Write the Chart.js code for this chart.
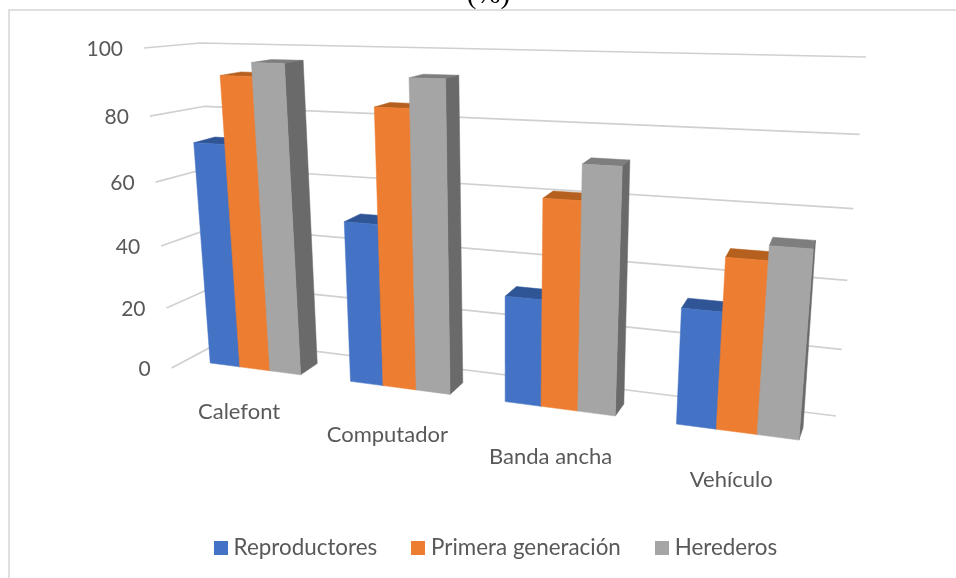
<!DOCTYPE html>
<html><head><meta charset="utf-8">
<style>html,body{margin:0;padding:0;background:#fff}#wrap{width:956px;height:578px}</style>
<script src="https://cdn.jsdelivr.net/npm/chart.js@4"></script>
</head><body><div id="wrap"><canvas id="c" width="956" height="578"></canvas></div>
<script>
const categories = ['Calefont','Computador','Banda ancha','Vehículo'];
const reproductores = [71,50,32,33.5];
const primeraGeneracion = [91.5,84,61,48.5];
const herederos = [95.5,92.5,71,52.5];
const titleText = '(%)';

// square-to-quad homography; corners: [bottom-left, bottom-right, top-right, top-left]
function quad(p){
  const [a,b,c,d]=p;
  const dx1=b[0]-c[0],dx2=d[0]-c[0],sx=a[0]-b[0]+c[0]-d[0];
  const dy1=b[1]-c[1],dy2=d[1]-c[1],sy=a[1]-b[1]+c[1]-d[1];
  const det=dx1*dy2-dx2*dy1;
  const g=(sx*dy2-dx2*sy)/det,h=(dx1*sy-sx*dy1)/det;
  const A=b[0]-a[0]+g*b[0],B=d[0]-a[0]+h*d[0];
  const D=b[1]-a[1]+g*b[1],E=d[1]-a[1]+h*d[1];
  return (u,v)=>{const w=g*u+h*v+1;return [(A*u+B*v+a[0])/w,(D*u+E*v+a[1])/w];};
}
// perspective interpolation along a vertical edge of the box
function edge(p0,p1,v){
  const t=v/(v+(1-v)*1.083);
  return [p0[0]+(p1[0]-p0[0])*t,p0[1]+(p1[1]-p0[1])*t];
}
const barFront = quad([[187.3,360],[832.7,444.5],[865,60],[162,45]]);
const barBack  = quad([[207,349],[836,432],[864,57],[185,42.5]]);
const wall     = quad([[224,340],[836,416],[866,57],[200,43]]);
const labelPlane = quad([[170,404],[829,495],[819,371],[178,304]]);

const TEXT='#595959', GRID='#d0d0d0';
const shades=[
 {front:'#4472c4',top:'#2f5597',side:'#2f5597'},
 {front:'#ed7d31',top:'#b5601f',side:'#b5601f'},
 {front:'#a5a5a5',top:'#7e7e7e',side:'#6a6a6a'}];
function swatch(color){
  const s=document.createElement('canvas');s.width=14;s.height=14;
  const g=s.getContext('2d');g.fillStyle=color;g.fillRect(0,0,14,14);return s;
}
function poly(ctx,pts,fill){
  ctx.beginPath();pts.forEach((p,i)=>i?ctx.lineTo(p[0],p[1]):ctx.moveTo(p[0],p[1]));ctx.closePath();
  ctx.fillStyle=fill;ctx.fill();ctx.strokeStyle=fill;ctx.lineWidth=0.5;ctx.stroke();
}
const perspective={
  id:'perspective',
  beforeDraw(chart){
    const ctx=chart.ctx;ctx.save();
    ctx.fillStyle='#fff';ctx.fillRect(0,0,956,578);
    ctx.strokeStyle='#d9d9d9';ctx.lineWidth=1.6;
    ctx.strokeRect(9,10,1100,1000);
    ctx.font='29px "Liberation Serif"';ctx.fillStyle='#000';ctx.textAlign='center';ctx.textBaseline='alphabetic';
    ctx.fillText(titleText,488.5,3);
    ctx.restore();
  },
  beforeDatasetsDraw(chart){
    const ctx=chart.ctx,area=chart.chartArea,ys=chart.scales.y,xs=chart.scales.x;
    const U=px=>(px-area.left)/area.width, V=py=>(area.bottom-py)/area.height;
    ctx.save();
    ctx.font='21px Lato';ctx.fillStyle=TEXT;ctx.textBaseline='middle';ctx.textAlign='right';
    ys.ticks.forEach(t=>{
      const v=V(ys.getPixelForValue(t.value));
      const a=edge([171.7,368],[144,48],v),b=edge([224,340],[200,43],v),c=wall(1,v);
      ctx.beginPath();ctx.moveTo(a[0],a[1]);ctx.lineTo(b[0],b[1]);ctx.lineTo(c[0],c[1]);
      ctx.strokeStyle=GRID;ctx.lineWidth=1.7;ctx.stroke();
      ctx.fillText(String(t.value),a[0]-21,a[1]+1);
    });
    ctx.font='22px Lato';ctx.textAlign='center';
    xs.ticks.forEach((t,i)=>{
      const u=U(xs.getPixelForTick(i));
      ctx.fillText(xs.getLabelForValue(t.value),labelPlane(u,0)[0],400.7+90.7*u);
    });
    const n=categories.length;
    for(let c=0;c<n;c++){
      chart.data.datasets.forEach((ds,d)=>{
        const el=chart.getDatasetMeta(d).data[c];
        const u0=U(el.x-el.width/2),u1=U(el.x+el.width/2),v=V(el.y),b=V(el.base);
        const s=shades[d];
        poly(ctx,[barFront(u0,v),barFront(u1,v),barBack(u1,v),barBack(u0,v)],s.top);
        poly(ctx,[barFront(u1,b),barBack(u1,b),barBack(u1,v),barFront(u1,v)],s.side);
        poly(ctx,[barFront(u0,b),barFront(u1,b),barFront(u1,v),barFront(u0,v)],s.front);
      });
    }
    ctx.restore();
    return false;
  }
};
Chart.register(perspective);
new Chart(document.getElementById('c'),{
  type:'bar',
  data:{labels:categories,datasets:[
    {label:'Reproductores',data:reproductores,backgroundColor:shades[0].front},
    {label:'Primera generación',data:primeraGeneracion,backgroundColor:shades[1].front},
    {label:'Herederos',data:herederos,backgroundColor:shades[2].front}]},
  options:{
    responsive:false,animation:false,
    layout:{padding:{left:40,top:60,right:0,bottom:9}},
    datasets:{bar:{categoryPercentage:0.655,barPercentage:1}},
    scales:{
      x:{display:false,grid:{display:false}},
      y:{display:false,min:0,max:100,ticks:{stepSize:20}}
    },
    plugins:{
      tooltip:{enabled:false},
      legend:{position:'bottom',labels:{
        usePointStyle:true,pointStyleWidth:3.6,boxHeight:14,padding:39,color:TEXT,font:{family:'Lato',size:22.4},
        generateLabels(chart){
          const items=Chart.defaults.plugins.legend.labels.generateLabels(chart);
          items.forEach((it,i)=>{it.pointStyle=swatch(shades[i].front);});
          return items;
        }
      }}
    }
  }
});
</script></body></html>
